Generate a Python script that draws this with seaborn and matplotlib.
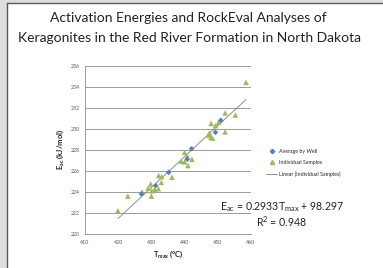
import numpy as np
import pandas as pd
import matplotlib
matplotlib.use("Agg")
import matplotlib.pyplot as plt
from matplotlib.lines import Line2D
from matplotlib.patches import Rectangle
import seaborn as sns

# Average by well
well_tmax = [427.0, 431.3, 435.2, 440.8, 442.1, 449.3, 450.9]
well_eac = [223.8, 224.6, 225.85, 227.1, 228.1, 229.65, 230.8]

# Individual samples
sample_tmax = [419.9, 422.9, 427.2, 429.0, 429.8, 430.0, 430.1, 431.0, 432.1, 432.2,
               433.1, 433.0, 436.2, 439.0, 440.0, 440.0, 440.8, 441.0, 442.2, 447.2,
               447.5, 447.9, 448.0, 448.4, 449.3, 450.2, 452.2, 452.2, 455.3, 458.5]
sample_eac = [222.2, 223.6, 224.0, 224.35, 224.75, 223.6, 224.1, 224.25, 224.3, 225.55,
              225.45, 224.9, 225.4, 226.9, 226.85, 227.75, 227.4, 226.5, 227.1, 229.4,
              229.6, 229.2, 230.5, 229.1, 230.3, 230.6, 231.5, 229.7, 231.3, 234.4]

# linear trend (individual samples)
slope = 0.2933
intercept = 98.297
r2 = 0.948

x_ticks = [410, 420, 430, 440, 450, 460]
y_ticks = [220, 222, 224, 226, 228, 230, 232, 234, 236]

sns.set_style("white")
plt.rcParams['font.family'] = ['Lato', 'DejaVu Sans']
plt.rcParams['mathtext.default'] = 'regular'

W, H = 383, 268
fig = plt.figure(figsize=(W / 100, H / 100), dpi=100)
fig.patch.set_facecolor('white')

# slide frame (left and top)
fig.patches.append(Rectangle((0, 0), 6 / W, 1, transform=fig.transFigure, color='#dedede', zorder=0))
fig.patches.append(Rectangle((0, 1 - 2 / H), 1, 2 / H, transform=fig.transFigure, color='#dedede', zorder=0))
fig.add_artist(Line2D([6.5 / W, 6.5 / W], [0, 1 - 2.5 / H], color='#5a5a5a', lw=1.0))
fig.add_artist(Line2D([6.5 / W, 1], [1 - 2.5 / H, 1 - 2.5 / H], color='#5a5a5a', lw=1.0))

fig.text(188 / W, 1 - 18 / H, "Activation Energies and RockEval Analyses of",
         ha='center', va='center', fontsize=10, color='#222222')
fig.text(190 / W, 1 - 38 / H, "Keragonites in the Red River Formation in North Dakota",
         ha='center', va='center', fontsize=10, color='#222222')

ax = fig.add_axes([85 / W, 1 - 234 / H, 166 / W, 168.5 / H])

wells = pd.DataFrame({'tmax': well_tmax, 'eac': well_eac})
samples = pd.DataFrame({'tmax': sample_tmax, 'eac': sample_eac})

line_x = np.array([min(sample_tmax), max(sample_tmax)])
ax.plot(line_x, slope * line_x + intercept, color='#7f7f7f', lw=0.6, zorder=2)
sns.scatterplot(data=samples, x='tmax', y='eac', marker='^', s=16, color='#9bbb59',
                edgecolor='none', ax=ax, zorder=3)
sns.scatterplot(data=wells, x='tmax', y='eac', marker='D', s=8, color='#4f81bd',
                edgecolor='none', ax=ax, zorder=4)

ax.set_xlim(410, 460)
ax.set_ylim(220, 236)
ax.set_xticks(x_ticks)
ax.set_yticks(y_ticks)
ax.tick_params(axis='both', length=0, labelsize=3.8, labelcolor='#595959', pad=4)
ax.yaxis.grid(True, color='#8c8c8c', lw=0.6)
ax.set_axisbelow(True)
for side in ['top', 'right']:
    ax.spines[side].set_visible(False)
for side in ['left', 'bottom']:
    ax.spines[side].set_color('#8c8c8c')
    ax.spines[side].set_linewidth(0.6)

ax.set_xlabel(r'T$_{max}$ (°C)', fontsize=5.5, fontweight='bold', color='#222222', labelpad=3)
ax.set_ylabel(r'E$_{ac}$ (kJ/mol)', fontsize=5.5, fontweight='bold', color='#222222', labelpad=3)

handles = [
    Line2D([], [], marker='D', color='#4f81bd', ls='none', markersize=2.2),
    Line2D([], [], marker='^', color='#9bbb59', ls='none', markersize=3),
    Line2D([], [], color='#7f7f7f', lw=0.6),
]
fig.legend(handles, ['Average by Well', 'Individual Samples', 'Linear (Individual Samples)'],
           loc='upper left', bbox_to_anchor=(261 / W, 1 - 144 / H), frameon=False,
           fontsize=3.8, handlelength=2.2, labelspacing=1.2, handletextpad=0.4)

fig.text(282 / W, 1 - 207 / H, r'E$_{ac}$ = 0.2933T$_{max}$ + 98.297',
         ha='center', va='center', fontsize=7.6, color='#222222')
fig.text(282 / W, 1 - 222 / H, f'R$^2$ = {r2}',
         ha='center', va='center', fontsize=7.6, color='#222222')

fig.savefig('out.png', dpi=100)
